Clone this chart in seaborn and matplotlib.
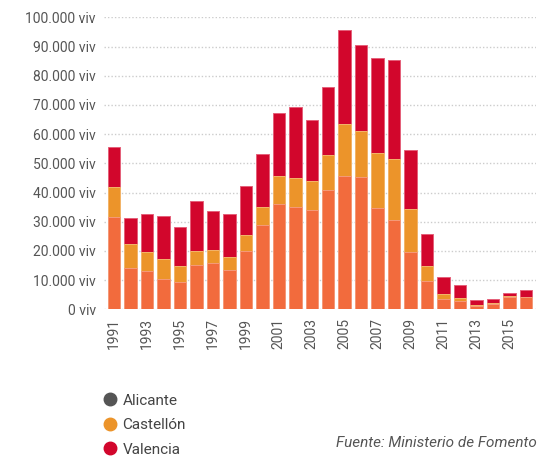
import matplotlib
import numpy as np
import pandas as pd
import seaborn as sns

matplotlib.use("Agg")
import matplotlib.pyplot as plt
from matplotlib.lines import Line2D

years = list(range(1991, 2017))
# cumulative heights (viviendas)
alicante = [31700, 14300, 13000, 10500, 9400, 15200, 16000, 13300, 20100, 28700,
            36000, 35000, 34100, 41000, 45600, 45400, 34800, 30500, 19500, 9800,
            3600, 3000, 1250, 1900, 4300, 4100]
castellon = [10100, 7900, 6600, 6800, 5500, 4600, 4400, 4600, 5400, 6300,
             9500, 9900, 9700, 11800, 17800, 15800, 18600, 21100, 14700, 5000,
             1600, 900, 350, 400, 250, 200]
valencia = [13800, 8900, 12900, 14800, 13400, 17400, 13400, 14900, 16600, 18100,
            21700, 24500, 21000, 23400, 32200, 29400, 32800, 33700, 20500, 10900,
            5900, 4400, 1700, 1100, 1050, 2200]

colors = {"Alicante": "#f26b3d", "Castellón": "#ec942a", "Valencia": "#d2062c"}
edges = {"Alicante": "#f59a7a", "Castellón": "#f3b66a", "Valencia": "#e4607a"}
legend_colors = {"Alicante": "#555555", "Castellón": "#ec942a", "Valencia": "#d2062c"}

df = pd.DataFrame({"year": [str(y) for y in years],
                   "Alicante": alicante, "Castellón": castellon, "Valencia": valencia})
df["c_ali"] = df["Alicante"]
df["c_cas"] = df["c_ali"] + df["Castellón"]
df["c_val"] = df["c_cas"] + df["Valencia"]

sns.set_style("white")
plt.rcParams["font.family"] = ["Roboto", "DejaVu Sans"]

fig = plt.figure(figsize=(5.38, 4.58), dpi=100)
ax = fig.add_axes([104 / 538, 1 - 309.3 / 458, 432 / 538, 292 / 458])

for col, name in [("c_val", "Valencia"), ("c_cas", "Castellón"), ("c_ali", "Alicante")]:
    sns.barplot(data=df, x="year", y=col, color=colors[name], saturation=1,
                width=0.76, edgecolor=edges[name], linewidth=0.7, ax=ax)

ax.set_ylim(0, 100000)
ax.set_xlim(-0.62, 25.62)
yt = np.arange(0, 100001, 10000)
ax.set_yticks(yt)
ax.set_yticklabels([f"{v:,}".replace(",", ".") + " viv" for v in yt],
                   fontsize=10, color="#555555")
ax.set_xticks(range(0, 26, 2))
ax.set_xticklabels([str(y) for y in years[::2]], rotation=90, fontsize=10, color="#555555")
ax.tick_params(axis="both", length=0, pad=6)
ax.set_xlabel("")
ax.set_ylabel("")
ax.yaxis.grid(True, linestyle=(0, (1, 1.5)), color="#cccccc", linewidth=1)
ax.set_axisbelow(True)
for s in ax.spines.values():
    s.set_visible(False)

handles = [Line2D([0], [0], marker="o", linestyle="", markersize=9,
                  markerfacecolor=legend_colors[n], markeredgecolor=legend_colors[n])
           for n in ["Alicante", "Castellón", "Valencia"]]
fig.legend(handles, ["Alicante", "Castellón", "Valencia"], loc="upper left",
           bbox_to_anchor=(89 / 538, 1 - 380 / 458), frameon=False, fontsize=11,
           labelcolor="#444444", handletextpad=0.3, labelspacing=0.68, handlelength=1.0)

fig.text(537 / 538, 1 - 443 / 458, "Fuente: Ministerio de Fomento", ha="right",
         va="center", fontsize=11, style="italic", color="#555555")

fig.savefig("out.png", dpi=100)
